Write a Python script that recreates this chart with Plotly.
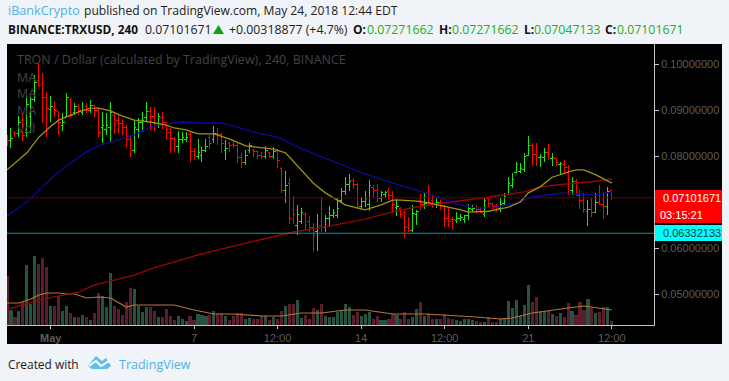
import plotly.graph_objects as go

W, H = 729, 381
SCALE = 1e-4

highs = [847,862,855,888,895,934,929,977,1005,982,
 940,932,921,899,895,938,927,916,914,918,
 916,923,912,905,897,895,918,897,890,882,
 868,847,879,884,897,918,908,908,895,897,
 875,862,842,855,853,853,853,818,838,821,
 838,847,866,862,851,836,832,832,832,808,
 814,829,816,814,810,823,810,821,816,777,
 768,753,714,695,688,679,671,655,675,712,
 673,692,686,710,732,755,762,753,742,712,
 725,749,738,740,725,725,732,725,708,690,
 684,668,695,684,718,721,738,716,710,705,
 695,688,668,679,675,673,697,695,695,690,
 710,710,699,697,710,721,755,764,788,786,
 808,845,829,829,805,818,827,808,797,788,
 792,782,755,751,727,721,705,710,721,738,
 723,734,727.17]
lows = [823,818,842,842,834,842,851,918,951,873,
 842,875,886,847,855,886,886,890,890,890,
 895,895,886,842,829,847,832,849,851,847,
 821,799,808,840,853,875,858,855,862,860,
 836,808,810,808,829,832,788,792,795,788,
 810,816,829,825,808,792,810,818,786,775,
 782,808,799,795,795,795,797,795,775,721,
 699,653,653,629,653,640,636,592,595,636,
 636,647,666,666,699,716,725,729,686,686,
 690,681,710,701,701,710,705,677,671,666,
 623,636,636,651,684,686,695,688,688,684,
 647,647,640,655,660,655,662,679,677,677,
 668,688,686,679,679,695,716,732,764,764,
 766,801,779,779,777,788,792,779,779,760,
 764,716,716,714,686,677,649,668,677,695,
 664,673,704.71]
opens = [840,834,853,851,879,853,886,923,966,958,
 929,903,905,897,868,888,923,895,908,895,
 908,901,910,901,864,858,864,890,879,871,
 864,836,814,858,873,884,897,886,868,884,
 873,853,840,821,836,836,847,810,799,803,
 814,842,836,851,847,814,829,827,825,797,
 788,814,814,810,803,801,808,801,812,775,
 727,742,684,651,658,675,658,645,636,651,
 645,666,671,671,705,723,740,747,740,692,
 703,695,732,727,708,718,723,716,690,688,
 679,647,640,673,705,695,710,705,695,701,
 692,666,664,660,666,662,671,684,688,684,
 675,708,697,692,686,697,718,736,766,768,
 771,803,825,805,797,797,808,795,795,782,
 782,777,727,745,716,705,681,684,679,701,
 695,692,727.17]
closes = [834,840,851,873,845,912,923,960,955,929,
 905,908,899,873,875,929,890,908,899,901,
 901,910,901,853,868,868,895,868,871,864,
 836,825,862,875,879,897,886,875,886,875,
 858,840,836,836,842,842,810,803,808,814,
 821,829,851,847,829,818,825,825,797,788,
 803,823,810,803,801,812,801,810,792,727,
 738,666,675,675,679,651,645,629,645,645,
 666,671,679,688,723,740,745,740,695,703,
 708,738,727,710,721,721,716,695,692,673,
 645,640,677,681,695,697,699,695,701,692,
 666,658,662,666,668,671,688,688,684,679,
 705,697,692,690,695,712,742,749,782,775,
 799,825,805,803,799,808,805,797,788,784,
 777,749,745,716,705,684,684,679,701,695,
 692,723,710.17]
volumes = [49,15,8,14,23,60,21,69,61,67,
 58,19,19,29,14,19,12,8,8,10,
 8,5,12,32,29,18,52,19,16,10,
 23,37,36,19,13,18,18,14,8,8,
 16,9,5,9,6,4,9,5,11,10,
 9,10,14,11,12,9,5,9,12,12,
 6,7,6,6,9,9,5,8,6,14,
 19,21,21,25,7,10,6,17,15,21,
 9,8,8,13,14,21,18,10,13,9,
 11,13,6,9,5,5,6,11,10,6,
 13,6,8,16,23,9,12,6,6,6,
 11,7,6,5,4,6,6,5,4,3,
 3,8,3,3,6,6,24,17,25,9,
 20,40,23,28,14,14,14,11,9,12,
 8,22,14,10,23,15,26,17,12,13,
 18,18,4]

ma_fast_x = [0,5,8,11,13,16,18,21,23,26,29,32,36,40,42,45,48,52,56,60,65,67,70,74,77,80,83,85,89,90,94,97,99,103,106,110,114,116,121,124,126,129,131,134,137,141,143,145,148,152]
ma_fast = [771,808,842,866,879,890,897,905,905,899,888,879,875,868,862,858,849,849,838,823,818,816,808,771,742,721,705,695,686,684,695,705,705,703,699,692,684,679,681,686,690,701,721,734,755,766,771,771,760,742]
ma_mid_x = [0,5,8,12,16,20,23,28,32,36,40,44,48,54,59,63,68,72,78,83,90,97,103,107,113,118,123,128,132,140,143,148,152]
ma_mid = [671,701,727,760,786,810,823,836,847,864,871,875,873,873,860,851,842,825,803,786,762,742,727,716,697,688,690,699,712,721,718,716,723]
ma_slow_x = [0,9,18,22,26,32,36,42,48,52,61,72,80,85,90,94,99,104,110,116,121,126,130,134,138,143,147,152]
ma_slow = [468,490,505,521,529,542,555,571,586,595,614,636,647,655,664,673,684,692,699,705,712,718,723,734,738,742,745,751]
vol_ma_x = [0,3,6,8,10,13,15,17,20,23,26,30,32,35,42,47,52,57,64,69,74,79,85,90,97,105,110,118,124,127,132,137,141,145,148,152]
vol_ma = [22,22,26,30,32,32,31,31,27,28,27,18,20,20,20,15,11,11,9,9,12,12,15,15,11,11,10,8,6,7,12,15,17,19,17,15]

tick_pos = [11,47,68,89,110,131,152]
tick_text = ["<b>May</b>","7","12:00","14","12:00","21","12:00"]
price_ticks = [0.05,0.06,0.08,0.09,0.10]
last_price = 0.07101671
support_price = 0.06332133
countdown = "03:15:21"
title_text = "TRON / Dollar (calculated by TradingView), 240, BINANCE"
legend_labels = ["MA","MA","MA","Vol"]

BG = "#f0f3f7"
def px(x): return x / W
def py(y): return 1 - y / H
sc = lambda a: [v * SCALE for v in a]

fig = go.Figure()
vol_colors = ["#27523f" if c >= o else "#5a1f2c" for o, c in zip(opens, closes)]
fig.add_bar(x=list(range(len(volumes))), y=volumes, marker=dict(color=vol_colors, line_width=0), width=0.78, yaxis="y", showlegend=False)
fig.add_scatter(x=vol_ma_x, y=vol_ma, mode="lines", line=dict(color="#b5743a", width=1.2), yaxis="y", showlegend=False)
fig.add_ohlc(x=list(range(len(opens))), open=sc(opens), high=sc(highs), low=sc(lows), close=sc(closes),
             increasing_line=dict(color="#19e619", width=1), decreasing_line=dict(color="#ff0000", width=1),
             tickwidth=0.5, yaxis="y2", showlegend=False)
fig.add_scatter(x=ma_slow_x, y=sc(ma_slow), mode="lines", line=dict(color="#920808", width=1.4), yaxis="y2", showlegend=False)
fig.add_scatter(x=ma_mid_x, y=sc(ma_mid), mode="lines", line=dict(color="#0a0a9c", width=1.3), yaxis="y2", showlegend=False)
fig.add_scatter(x=ma_fast_x, y=sc(ma_fast), mode="lines", line=dict(color="#9a9410", width=1.3), yaxis="y2", showlegend=False)

shapes = [
    dict(type="rect", xref="paper", yref="paper", x0=px(7), x1=px(722), y0=py(344), y1=py(44), fillcolor="#000000", line_width=0, layer="below"),
    dict(type="line", xref="paper", yref="y2", x0=px(7), x1=px(654), y0=last_price, y1=last_price, line=dict(color="#650000", width=1)),
    dict(type="line", xref="paper", yref="y2", x0=px(7), x1=px(654), y0=support_price, y1=support_price, line=dict(color="#009a9a", width=1)),
    dict(type="rect", xref="paper", yref="paper", x0=px(655), x1=px(722), y0=py(223), y1=py(190), fillcolor="#ff0000", line_width=0),
    dict(type="rect", xref="paper", yref="paper", x0=px(655), x1=px(722), y0=py(241), y1=py(225), fillcolor="#00ffff", line_width=0),
    dict(type="path", xref="paper", yref="paper", fillcolor="#5cc0ea", line_width=0,
         path="M %f %f L %f %f L %f %f L %f %f L %f %f L %f %f L %f %f L %f %f Z" % (
             px(88), py(366), px(96), py(356), px(102), py(361), px(106), py(358),
             px(111), py(366), px(107), py(369), px(92), py(369), px(88), py(366))),
    dict(type="path", xref="paper", yref="paper", line=dict(color="#ffffff", width=2),
         path="M %f %f L %f %f L %f %f L %f %f" % (px(89), py(366), px(96), py(361), px(101), py(366), px(109), py(361))),
    dict(type="path", xref="paper", yref="paper", fillcolor="#12a012", line_width=0,
         path="M %f %f L %f %f L %f %f Z" % (px(213), py(34), px(224), py(34), px(218.5), py(25))),
]

HF = "Open Sans"
def note(x, y, text, color="#000000", size=12.5, family=HF, bold=False):
    if bold:
        text = "<b>%s</b>" % text
    return dict(xref="paper", yref="paper", x=px(x), y=py(y), text=text, showarrow=False, xanchor="left", yanchor="middle",
                font=dict(family=family, size=size, color=color), align="left")

ann = [
    note(6, 11, "iBankCrypto", "#4db2e8", 12.6),
    note(82, 11, "published on TradingView.com, May 24, 2018 12:44 EDT", "#222222", 12.1),
    note(6, 29, "BINANCE:TRXUSD, 240", "#111111", 11.8, bold=True),
    note(143, 29, "0.07101671", "#222222", 12.3),
    note(227, 29, "+0.00318877 (+4.7%)", "#222222", 12.3),
    note(351, 29, "O:", "#111111", 12, bold=True),
    note(365, 29, "0.07271662", "#22b022", 12.3),
    note(437, 29, "H:", "#111111", 12, bold=True),
    note(450, 29, "0.07271662", "#22b022", 12.3),
    note(522, 29, "L:", "#111111", 12, bold=True),
    note(532, 29, "0.07047133", "#22b022", 12.3),
    note(603, 29, "C:", "#111111", 12, bold=True),
    note(615, 29, "0.07101671", "#22b022", 12.3),
    note(15, 60, title_text, "#444444", 12.5),
    note(661, 198, "%.8f" % last_price, "#ffffff", 11, "Liberation Sans"),
    note(658, 215, countdown, "#ffffff", 11, "Liberation Sans"),
    note(661, 233, "%.8f" % support_price, "#0a3a3a", 11, "Liberation Sans"),
    note(6, 364, "Created with", "#222222", 11.9),
    note(117, 364, "TradingView", "#4db2e8", 12.5),
]
for y, lab in zip([77, 94, 111, 128], legend_labels):
    ann.append(note(15, y, lab, "#444444", 12.5))

fig.update_layout(
    width=W, height=H, autosize=False, margin=dict(l=0, r=0, t=0, b=0),
    paper_bgcolor=BG, plot_bgcolor="#000000", bargap=0,
    shapes=shapes, annotations=ann, showlegend=False,
    xaxis=dict(domain=[px(7), px(654)], range=[0, 162.6], rangeslider=dict(visible=False), showgrid=False, zeroline=False,
               showline=True, linecolor="#c4c4c4", linewidth=1, ticks="outside", ticklen=3, tickcolor="#c4c4c4",
               tickmode="array", tickvals=tick_pos, ticktext=tick_text,
               tickfont=dict(family="Liberation Sans", size=11, color="#5d5d5d")),
    yaxis=dict(domain=[py(325), py(44)], range=[0, 281], visible=False, showgrid=False, zeroline=False),
    yaxis2=dict(domain=[py(325), py(44)], overlaying="y", side="right", anchor="x", range=[0.04337, 0.10446],
                showgrid=False, zeroline=False, showline=True, linecolor="#c4c4c4", linewidth=1,
                ticks="outside", ticklen=4, tickcolor="#c4c4c4", tickmode="array", tickvals=price_ticks,
                tickformat=".8f", tickfont=dict(family="Liberation Sans", size=11, color="#5d5d5d")),
)
post = """
document.documentElement.style.margin='0';
document.body.style.margin='0';
document.body.style.background='%s';
var st=document.createElement('style');
st.textContent='.ohlc path{shape-rendering:crispEdges !important;}';
document.head.appendChild(st);
""" % BG
fig.write_html("out.html", config=dict(displayModeBar=False), post_script=post)
